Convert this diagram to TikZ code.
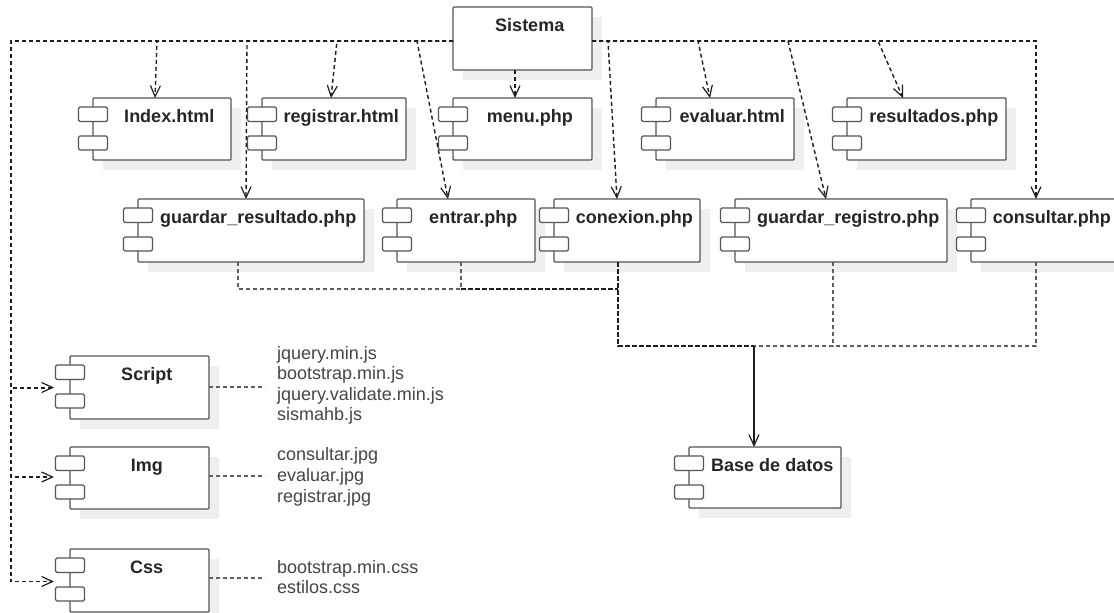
\documentclass[tikz,border=0pt]{standalone}
\usepackage{fontspec}
\setmainfont{Liberation Sans}
\usetikzlibrary{arrows.meta,calc}

\definecolor{edge}{HTML}{555555}
\definecolor{ink}{HTML}{262626}
\definecolor{listink}{HTML}{454545}
\definecolor{dropgray}{HTML}{EFEFEF}
\definecolor{wire}{HTML}{1E1E1E}
\definecolor{feed}{HTML}{5E5E5E}

\tikzset{
  compbox/.style={draw=edge, fill=white, line width=1.4pt, rounded corners=1pt, inner sep=0pt, outer sep=0pt},
  tabbox/.style={draw=edge, fill=white, line width=1.3pt, rounded corners=1.5pt},
  dropshadow/.style={fill=dropgray},
  comptext/.style={font=\fontsize{18}{20}\selectfont\bfseries, text=ink, inner sep=0pt},
  listtext/.style={font=\fontsize{18}{20}\selectfont, text=listink, inner sep=0pt, anchor=base west},
  barb/.style={-{Straight Barb[length=11pt,width=10pt,line width=1.2pt]}},
  dep/.style={draw=wire, line width=1.4pt, dash pattern=on 4pt off 3pt, barb},
  feeder/.style={draw=feed, line width=1.3pt, dash pattern=on 4pt off 3pt},
  trunkfeeder/.style={draw=wire, line width=1.6pt, dash pattern=on 5pt off 2pt},
  note/.style={draw=feed, line width=1.2pt, dash pattern=on 4pt off 3pt},
  dbarrow/.style={draw=wire, line width=1.5pt, barb},
}

% #1 name, #2 left, #3 top, #4 width, #5 height, #6 label
\newcommand\umlbox[6]{%
  \path[dropshadow] (#2+10,#3+10) rectangle ++(#4,#5);
  \node[compbox, anchor=north west, minimum width=#4pt, minimum height=#5pt] (#1) at (#2,#3) {};
  \node[comptext, anchor=base] (#1-t) at ($(#1.north)+(7.25,24)$) {#6};
}
% a component: box plus its two tabs on the left side
\newcommand\umlcomp[6]{%
  \umlbox{#1}{#2}{#3}{#4}{#5}{#6}
  \draw[tabbox] ($(#1.north west)+(-14.5,9)$) rectangle ++(29,14.5);
  \draw[tabbox] ($(#1.north west)+(-14.5,38)$) rectangle ++(29,14);
}

\begin{document}
\begin{tikzpicture}[x=1pt, y=-1pt]
\useasboundingbox (0,0) rectangle (1114,613);
\fill[white] (0,0) rectangle (1114,613);
\clip (0,0) rectangle (1114,613);

% ---- components ----
\umlbox {sis}{453}{7}{139}{63}{Sistema}

\umlcomp{index}{93}{98}{138}{62}{Index.html}
\umlcomp{registrar}{262}{98}{144}{62}{registrar.html}
\umlcomp{menu}{453}{98}{139}{62}{menu.php}
\umlcomp{evaluar}{656}{98}{138}{62}{evaluar.html}
\umlcomp{resultados}{847}{98}{159}{62}{resultados.php}

\umlcomp{guardarres}{138}{199}{226}{63}{guardar\_resultado.php}
\umlcomp{entrar}{397}{199}{138}{63}{entrar.php}
\umlcomp{conexion}{554}{199}{146}{63}{conexion.php}
\umlcomp{guardarreg}{735}{199}{212}{63}{guardar\_registro.php}
\umlcomp{consultar}{971}{199}{147}{63}{consultar.php}

\umlcomp{script}{70}{356}{139}{63}{Script}
\umlcomp{img}{70}{447}{139}{62}{Img}
\umlcomp{css}{70}{549}{139}{63}{Css}

\umlcomp{bd}{689}{447}{152}{61}{Base de datos}

% ---- file lists ----
\node[listtext] (s1) at (277,359) {jquery.min.js};
\node[listtext] (s2) at (277,379.5) {bootstrap.min.js};
\node[listtext] (s3) at (277,400) {jquery.validate.min.js};
\node[listtext] (s4) at (277,420.5) {sismahb.js};

\node[listtext] (i1) at (277,460) {consultar.jpg};
\node[listtext] (i2) at (277,481) {evaluar.jpg};
\node[listtext] (i3) at (277,502) {registrar.jpg};

\node[listtext] (c1) at (277,573) {bootstrap.min.css};
\node[listtext] (c2) at (277,593.5) {estilos.css};

\draw[note, shorten >=12pt] ([yshift=0.5pt]script.east) -- ([yshift=0.5pt]script.east -| s1.west);
\draw[note, shorten >=12pt] ([yshift=2pt]img.east) -- ([yshift=2pt]img.east -| i1.west);
\draw[note, shorten >=12pt] ([yshift=2.5pt]css.east) -- ([yshift=2.5pt]css.east -| c1.west);

% ---- dependencies from Sistema ----
\coordinate (sw) at ([yshift=-2.5pt]sis.west);
\coordinate (se) at ([yshift=-2.5pt]sis.east);
\coordinate (lc) at (11,41);

\draw[dep, line width=2pt]   (sw) -- (lc) |- ([xshift=-16pt]script.west);
\draw[dep, line width=1.7pt] (sw) -- (lc) |- ([xshift=-16pt,yshift=1pt]img.west);
\draw[dep, line width=1.3pt] (sw) -- (lc) |- ([xshift=-16pt,yshift=-1pt]css.west);

\draw[dep] (sw) -- (157,41) -- ([xshift=-7pt]index.north);
\draw[dep] (sw) -- (247,41) -- ([xshift=-5pt]guardarres.north);
\draw[dep] (sw) -- (337,41) -- ([xshift=-3pt]registrar.north);
\draw[dep] (sw) -- (417,41) -- ([xshift=-18pt]entrar.north);

\draw[dep] ([xshift=-7.5pt]sis.south) -- ([xshift=-7.5pt]menu.north);

\draw[dep] (se) -- (608,41) -- ([xshift=-10pt]conexion.north);
\draw[dep] (se) -- (698,41) -- ([xshift=-15pt]evaluar.north);
\draw[dep] (se) -- (788,41) -- ([xshift=-15pt]guardarreg.north);
\draw[dep] (se) -- (878,41) -- ([xshift=-23.5pt]resultados.north);
\draw[dep, line width=1.3pt] (se) -- (1036,41) -- ([xshift=-8.5pt]consultar.north);

% ---- dependencies on the database ----
\coordinate (busA) at (618,289);
\coordinate (busB) at (618,346);
\coordinate (busC) at (833,346);
\coordinate (jn) at (754,346);

\draw[feeder] ([xshift=-13pt]guardarres.south) |- ([xshift=-157pt]busA);
\draw[feeder] ([xshift=-5pt]entrar.south) |- (busA);
\draw[trunkfeeder] ([xshift=-157pt]busA) -- (busA);
\draw[trunkfeeder] ([xshift=-9pt]conexion.south) -- (busB) -- (jn);
\draw[feeder] ([xshift=-8pt]guardarreg.south) -- (busC) -- (jn);
\draw[feeder] ([xshift=-8.5pt]consultar.south) |- (busC);
\draw[dbarrow] (jn) -- (jn |- bd.north);
\end{tikzpicture}
\end{document}
